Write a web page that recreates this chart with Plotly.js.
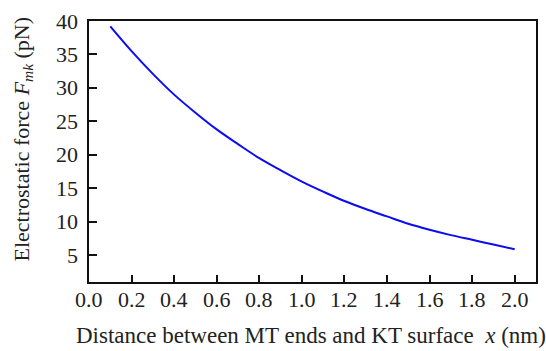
<!DOCTYPE html>
<html>
<head>
<meta charset="utf-8">
<script src="https://cdn.plot.ly/plotly-3.0.1.min.js"></script>
<style>html,body{margin:0;padding:0;background:#fff;}#chart{width:546px;height:351px;}</style>
</head>
<body>
<div id="chart"></div>
<script>
const distance = [0.1, 0.2, 0.3, 0.4, 0.5, 0.6, 0.7, 0.8, 0.9, 1.0, 1.1, 1.2, 1.3, 1.4, 1.5, 1.6, 1.7, 1.8, 1.9, 2.0];
const force = [39.2, 35.5, 32.1, 29.0, 26.3, 23.8, 21.6, 19.5, 17.7, 16.0, 14.5, 13.1, 11.9, 10.8, 9.7, 8.8, 8.0, 7.3, 6.6, 5.9];
const xTicks = [0.0, 0.2, 0.4, 0.6, 0.8, 1.0, 1.2, 1.4, 1.6, 1.8, 2.0];
const yTicks = [5, 10, 15, 20, 25, 30, 35, 40];
const xTitle = 'Distance between MT ends and KT surface  <i>x</i> (nm)';
const yTitle = 'Electrostatic force <i>F</i><sub><i>mk</i></sub> (pN)';

const font = 'Liberation Serif';
const txt = '#222';
const annotations = [];
xTicks.forEach(v => annotations.push({
  x: v, xref: 'x', y: 0, yref: 'paper', xanchor: 'center', yanchor: 'top', yshift: -3,
  text: v.toFixed(1), showarrow: false, font: {family: font, size: 22, color: txt}
}));
yTicks.forEach(v => annotations.push({
  x: 0, xref: 'paper', y: v, yref: 'y', xanchor: 'right', yanchor: 'middle', xshift: -9,
  text: String(v), showarrow: false, font: {family: font, size: 22, color: txt}
}));
annotations.push({
  x: 0.5, xref: 'paper', y: 0, yref: 'paper', xanchor: 'center', yanchor: 'middle',
  xshift: -2, yshift: -53, text: xTitle, showarrow: false, font: {family: font, size: 23, color: txt}
});
annotations.push({
  x: 0, xref: 'paper', y: 0.5, yref: 'paper', xanchor: 'center', yanchor: 'middle',
  xshift: -67, yshift: 12, textangle: -90, text: yTitle, showarrow: false, font: {family: font, size: 22, color: txt}
});

Plotly.newPlot('chart', [{
  x: distance, y: force, type: 'scatter', mode: 'lines',
  line: {color: '#0c0cf2', width: 2, shape: 'spline'},
  hoverinfo: 'skip'
}], {
  width: 546, height: 351,
  margin: {l: 89, r: 10, t: 21, b: 69},
  paper_bgcolor: '#fff', plot_bgcolor: '#fff',
  showlegend: false,
  font: {family: font, size: 22, color: txt},
  annotations: annotations,
  xaxis: {
    range: [0, 2.1], tickvals: xTicks, showticklabels: false,
    ticks: 'inside', ticklen: 7, tickwidth: 2, tickcolor: '#111',
    showline: true, linewidth: 2, linecolor: '#111', mirror: true,
    showgrid: false, zeroline: false
  },
  yaxis: {
    range: [1, 40], tickvals: yTicks, showticklabels: false,
    ticks: 'inside', ticklen: 8, tickwidth: 2, tickcolor: '#111',
    showline: true, linewidth: 2, linecolor: '#111', mirror: true,
    showgrid: false, zeroline: false
  }
}, {staticPlot: true, displayModeBar: false});
</script>
</body>
</html>
